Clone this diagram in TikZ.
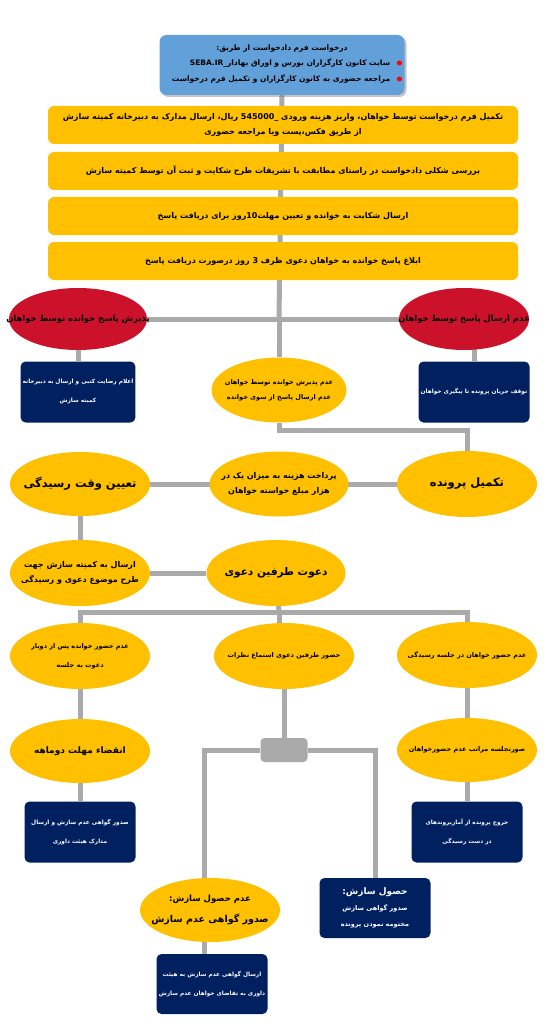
\documentclass[tikz,border=0pt]{standalone}
\usepackage{fontspec}
\newfontfamily\arabicfont[Script=Arabic]{DejaVu Sans}
\TeXXeTstate=1
\usetikzlibrary{positioning, shapes.geometric, backgrounds, shadows}

\definecolor{reqblue}{RGB}{98,160,218}
\definecolor{stepyellow}{RGB}{255,192,0}
\definecolor{ovalred}{RGB}{204,18,42}
\definecolor{boxnavy}{RGB}{0,32,96}
\definecolor{linkgray}{RGB}{170,170,170}

\newcommand{\fsize}[2]{\fontsize{#1}{#2}\selectfont}

\begin{document}
\begin{tikzpicture}[
        x=1pt, y=-1pt,
        font=\arabicfont\bfseries,
        link/.style={draw=linkgray, line width=5pt},
        reqbox/.style={fill=reqblue, rounded corners=7pt, minimum width=245pt, minimum height=60pt, drop shadow={shadow xshift=2pt, shadow yshift=-2pt, opacity=0.45}},
        stepbox/.style={fill=stepyellow, rounded corners=6pt, minimum width=470pt, minimum height=38pt, align=center, font=\arabicfont\bfseries\fsize{8}{15}},
        redoval/.style={ellipse, fill=ovalred, minimum width=138pt, minimum height=62pt, inner sep=0pt},
        yoval/.style={ellipse, fill=stepyellow, minimum width=140pt, minimum height=65pt, inner sep=0pt},
        navybox/.style={fill=boxnavy, rounded corners=5pt, minimum width=111pt, minimum height=61pt, inner xsep=2pt, text=white, align=center, font=\arabicfont\bfseries\fsize{5.8}{19}},
        hubbox/.style={fill=linkgray, rounded corners=4pt, minimum width=47pt, minimum height=24pt},
        redtext/.style={font=\arabicfont\bfseries\fsize{8.4}{11}},
        smalltext/.style={align=center, font=\arabicfont\bfseries\fsize{6.5}{17}},
        midtext/.style={align=center, font=\arabicfont\bfseries\fsize{8}{15}},
        bigtext/.style={align=center, font=\arabicfont\bfseries\fsize{11.5}{14}},
        reqtext/.style={font=\arabicfont\bfseries\fsize{7.5}{9}},
        bulletdot/.style={circle, fill=red, inner sep=0pt, minimum size=5pt}
    ]

    \useasboundingbox (0,0) rectangle (546,1024);

    % --- Request (top) ---
    \node[reqbox] (req) at (282,65) {};
    \node[reqtext, anchor=north] (reqtitle) at ([yshift=-6pt]req.north) {\beginR درخواست فرم دادخواست از طریق:\endR};
    \node[reqtext, anchor=east] (reqline1) at ([xshift=-11pt, yshift=2pt]req.east) {\beginR سایت کانون کارگزاران بورس و اوراق بهادار\_\beginL SEBA.IR\endL\endR};
    \node[reqtext, anchor=east] (reqline2) at ([xshift=-11pt, yshift=-14pt]req.east) {\beginR مراجعه حضوری به کانون کارگزاران و تکمیل فرم درخواست\endR};
    \node[bulletdot, right=3pt of reqline1] (dot1) {};
    \node[bulletdot, right=3pt of reqline2] (dot2) {};

    % --- Steps ---
    \node[stepbox] (fill) at (283,125) {\beginR تکمیل فرم درخواست توسط خواهان، واریز هزینه ورودی \_\beginL545000\endL{} ریال، ارسال مدارک به دبیرخانه کمیته سازش\endR\\ \beginR از طریق فکس،پست ویا مراجعه حضوری\endR};
    \node[stepbox] (check) at (283,171) {\beginR بررسی شکلی دادخواست در راستای مطابقت با تشریفات طرح شکایت و ثبت آن توسط کمیته سازش\endR};
    \node[stepbox] (send) at (283,216) {\beginR ارسال شکایت به خوانده و تعیین مهلت10روز برای دریافت پاسخ\endR};
    \node[stepbox] (notify) at (283,261) {\beginR ابلاغ پاسخ خوانده به خواهان دعوی ظرف 3 روز درصورت دریافت پاسخ\endR};

    % --- Reply of the defendant ---
    \coordinate (j1) at (279,319);
    \node[redoval, label={[redtext]center:\beginR پذیرش پاسخ خوانده توسط خواهان\endR}] (accept) at (78,319) {};
    \node[redoval, minimum width=130pt, label={[redtext]center:\beginR عدم ارسال پاسخ توسط خواهان\endR}] (noreply) at (464,319) {};
    \node[navybox] (approve) at (78,392) {\beginR اعلام رضایت کتبی و ارسال به دبیرخانه\endR\\ \beginR کمیته سازش\endR};
    \node[navybox] (halt) at (474,392) {\beginR توقف جریان پرونده تا پیگیری خواهان\endR};
    \node[yoval, minimum width=135pt, label={[smalltext, font=\arabicfont\bfseries\fsize{6.5}{15}]center:\beginR عدم پذیرش خوانده توسط خواهان\endR\\ \beginR عدم ارسال پاسخ از سوی خوانده\endR}] (reject) at (279,390) {};

    % --- File completion ---
    \coordinate (j2) at (279,430);
    \node[yoval, minimum height=66pt, label={[bigtext]center:\beginR تکمیل پرونده\endR}] (complete) at (467,484) {};
    \node[yoval, minimum width=139pt, label={[midtext]center:\beginR پرداخت هزینه به میزان یک در\endR\\ \beginR هزار مبلغ خواسته خواهان\endR}] (pay) at (279,484) {};
    \node[yoval, minimum height=64pt, label={[bigtext]center:\beginR تعیین وقت رسیدگی\endR}] (settime) at (80,484) {};
    \node[yoval, minimum height=66pt, label={[midtext]center:\beginR ارسال به کمیته سازش جهت\endR\\ \beginR طرح موضوع دعوی و رسیدگی\endR}] (refer) at (80,573) {};
    \node[yoval, minimum width=139pt, minimum height=66pt, label={[bigtext, font=\arabicfont\bfseries\fsize{10.5}{13}]center:\beginR دعوت طرفین دعوی\endR}] (invite) at (276,573) {};

    % --- Hearing ---
    \coordinate (j3) at (279,612);
    \node[yoval, minimum height=66pt, label={[smalltext, font=\arabicfont\bfseries\fsize{6.5}{19}]center:\beginR عدم حضور خوانده پس از دوبار\endR\\ \beginR دعوت به جلسه\endR}] (nodef) at (80,656) {};
    \node[yoval, minimum height=66pt, label={[smalltext]center:\beginR حضور طرفین دعوی استماع نظرات\endR}] (attend) at (284,656) {};
    \node[yoval, minimum height=66pt, label={[smalltext]center:\beginR عدم حضور خواهان در جلسه رسیدگی\endR}] (noplaint) at (467,655) {};
    \node[yoval, minimum height=64pt, label={[midtext, font=\arabicfont\bfseries\fsize{9}{11}]center:\beginR انقضاء مهلت دوماهه\endR}] (expire) at (80,751) {};
    \node[yoval, minimum height=64pt, label={[smalltext]center:\beginR صورتجلسه مراتب عدم حضورخواهان\endR}] (minutes) at (467,750) {};
    \node[hubbox] (hub) at (284,750) {};
    \node[navybox] (certA) at (80,832) {\beginR صدور گواهی عدم سازش و ارسال\endR\\ \beginR مدارک هیئت داوری\endR};
    \node[navybox] (exitbox) at (467,832) {\beginR خروج پرونده از آمارپروندهای\endR\\ \beginR در دست رسیدگی\endR};

    % --- Outcome ---
    \node[yoval, minimum height=64pt, label={[midtext, font=\arabicfont\bfseries\fsize{8.5}{21}]center:\beginR عدم حصول سازش:\endR\\ {\fsize{9.5}{21}\beginR صدور گواهی عدم سازش\endR}}] (fail) at (210,910) {};
    \node[navybox, minimum height=60pt, font=\arabicfont\bfseries\fsize{6.5}{16}] (success) at (375,908) {{\fsize{9}{16}\beginR حصول سازش:\endR}\\ \beginR صدور گواهی سازش\endR\\ \beginR مختومه نمودن پرونده\endR};
    \node[navybox, minimum height=60pt] (certB) at (212,984) {\beginR ارسال گواهی عدم سازش به هیئت\endR\\ \beginR داوری به تقاضای خواهان عدم سازش\endR};

    % --- Connectors ---
    \begin{scope}[on background layer]
    \fill[white] (0,0) rectangle (546,1024);
    \draw[link] (req.south) -- (j1);
    \draw[link] (accept) -- (noreply);
    \draw[link] (accept) -- (approve);
    \draw[link] (halt) -- (halt |- noreply);
    \draw[link] (j1) -- (reject);
    \draw[link] (reject) -- (j2) -| (complete);
    \draw[link] (settime) -- (complete);
    \draw[link] (settime) -- (refer);
    \draw[link] (refer) -- (invite);
    \draw[link] (invite) -- (j3);
    \draw[link] (nodef.north) |- (j3) -| (noplaint.north);
    \draw[link] (j3) -- (j3 |- attend);
    \draw[link] (nodef) -- (expire) -- (certA);
    \draw[link] (noplaint) -- (minutes) -- (exitbox);
    \draw[link] (attend) -- (hub);
    \draw[link] (hub) -| ([xshift=-6pt]fail.north);
    \draw[link] (hub) -| (success.north);
    \draw[link] ([xshift=-6pt]fail.south) -- ([xshift=-8pt]certB.north);
    \end{scope}

\end{tikzpicture}
\end{document}
